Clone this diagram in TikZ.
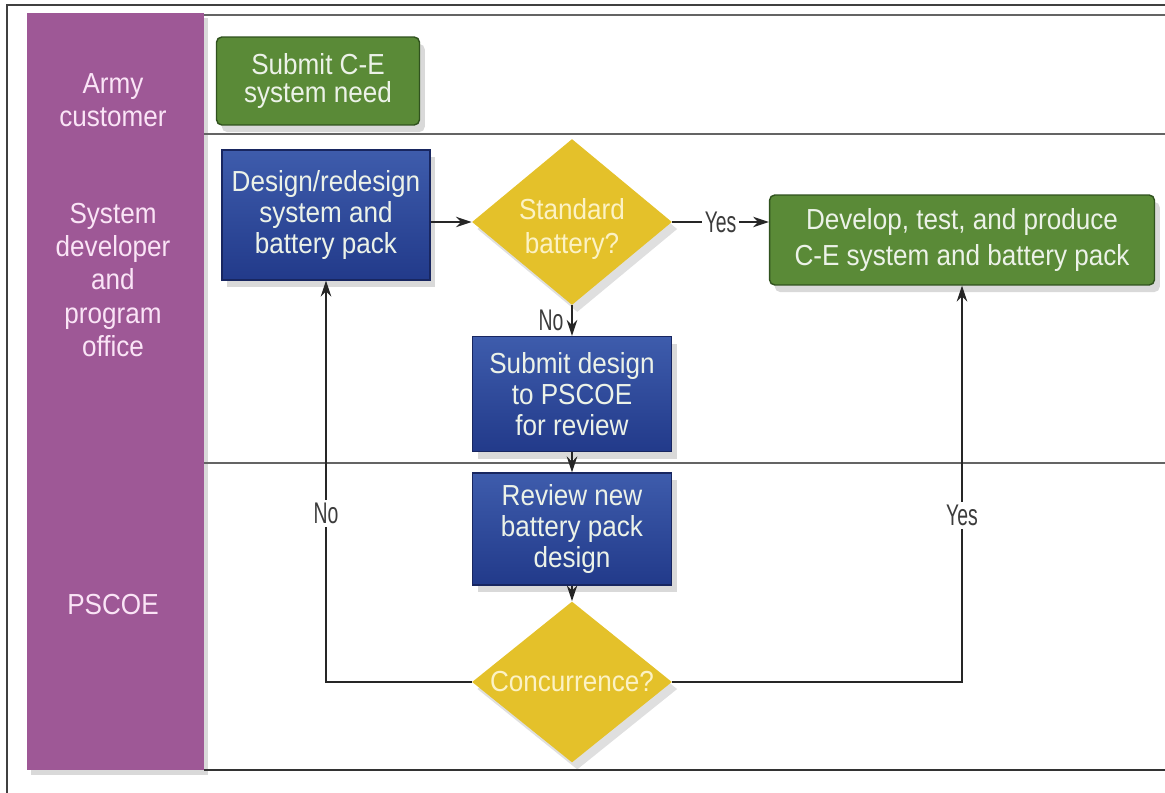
\documentclass[tikz,border=0pt]{standalone}
\usepackage{fontspec}
\setmainfont{Liberation Sans}
\newfontfamily\boxfont{Liberation Sans}[FakeStretch=0.9]
\newfontfamily\thinfont{Liberation Sans}[FakeStretch=0.65]
\usepackage{tikz}
\usetikzlibrary{arrows.meta}
\usetikzlibrary{shapes.geometric}
\usetikzlibrary{shadows}

\definecolor{lanepurple}{RGB}{158,88,150}
\definecolor{lanepink}{RGB}{250,228,246}
\definecolor{stepgreen}{RGB}{90,138,55}
\definecolor{stepgreendark}{RGB}{48,82,30}
\definecolor{steptop}{RGB}{62,92,172}
\definecolor{stepbot}{RGB}{34,58,138}
\definecolor{stepedge}{RGB}{24,38,96}
\definecolor{decyellow}{RGB}{228,193,42}
\definecolor{dectext}{RGB}{252,242,196}
\definecolor{boxtext}{RGB}{236,242,232}
\definecolor{linegray}{RGB}{100,100,100}
\definecolor{lblgray}{RGB}{60,60,60}

\tikzset{
  lanebar/.style={fill=lanepurple, drop shadow={shadow xshift=2pt, shadow yshift=-3pt, opacity=.3}},
  lanetext/.style={text=lanepink, align=center, font=\boxfont\fontsize{16.5}{19}\selectfont},
  laneline/.style={linegray, line width=.9pt},
  stepbox/.style={top color=steptop, bottom color=stepbot, draw=stepedge, line width=.8pt,
    text=boxtext, align=center, inner sep=1pt, font=\boxfont\fontsize{16.5}{17.5}\selectfont,
    drop shadow={shadow xshift=3pt, shadow yshift=-4pt, opacity=.3}},
  endbox/.style={fill=stepgreen, draw=stepgreendark, line width=.8pt, rounded corners=3pt,
    text=boxtext, align=center, inner sep=1pt, font=\boxfont\fontsize{16.5}{16}\selectfont,
    drop shadow={shadow xshift=3pt, shadow yshift=-4pt, opacity=.3}},
  decide/.style={diamond, fill=decyellow, inner sep=0pt,
    drop shadow={shadow xshift=3pt, shadow yshift=-4pt, opacity=.25}},
  dectxt/.style={text=dectext, align=center, font=\boxfont\fontsize{16.5}{19}\selectfont},
  lbl/.style={fill=white, inner sep=1.5pt, text=lblgray, font=\thinfont\fontsize{17}{17}\selectfont},
  arr/.style={black!85, line width=.8pt, ->, >={Stealth[length=9pt, width=6pt]}}
}

\begin{document}
\begin{tikzpicture}[x=0.02cm, y=-0.02cm]
\useasboundingbox (0,0) rectangle (1165,793);
% frame and lanes
\draw[black!75, line width=.6pt] (7,793) -- (7,5) -- (1165,5);
\path[lanebar] (27,13) rectangle (204,770);
\foreach \y in {15,134,463} {
 \draw[laneline] (204,\y) -- (1165,\y);
}
\draw[black!80, line width=.7pt] (204,770) -- (1165,770);
\node[lanetext] (army) at (113,100) {Army\\customer};
\node[lanetext] (devoffice) at (113,280) {System\\developer\\and\\program\\office};
\node[lanetext] (pscoe) at (113,605) {PSCOE};

% steps
\node[endbox, minimum width=4.06cm, minimum height=1.76cm] (need) at (318,81) {Submit C-E\\system need};
\node[stepbox, minimum width=4.16cm, minimum height=2.6cm] (design) at (326,215) {Design/redesign\\system and\\battery pack};
\node[decide, minimum width=4cm, minimum height=3.32cm,
  label={[dectxt, yshift=-4pt]center:Standard\\battery?}] (std) at (572,222) {};
\node[endbox, minimum width=7.7cm, minimum height=1.8cm, font=\boxfont\fontsize{16.5}{21}\selectfont] (dev) at (962,240) {Develop, test, and produce\\C-E system and battery pack};
\node[stepbox, minimum width=3.98cm, minimum height=2.3cm] (submit) at (572,394) {Submit design\\to PSCOE\\for review};
\node[stepbox, minimum width=3.98cm, minimum height=2.24cm] (review) at (572,529) {Review new\\battery pack\\design};
\node[decide, minimum width=4cm, minimum height=3.22cm,
  label={[dectxt]center:Concurrence?}] (conc) at (572,682) {};

% connectors
\draw[arr] (design.east |- std) -- (std.west);
\draw[arr] (std.east) -- node[lbl] {Yes} (std.east -| dev.west);
\draw[arr] (std.south) -- node[lbl, left=3pt, fill=none] {No} (submit.north);
\draw[arr] (submit) -- (review);
\draw[arr] (review) -- (conc);
\draw[arr] (conc.west) -| node[lbl, pos=.71] {No} (design.south);
\draw[arr] (conc.east) -| node[lbl, pos=.71] {Yes} (dev.south);
\end{tikzpicture}
\end{document}
